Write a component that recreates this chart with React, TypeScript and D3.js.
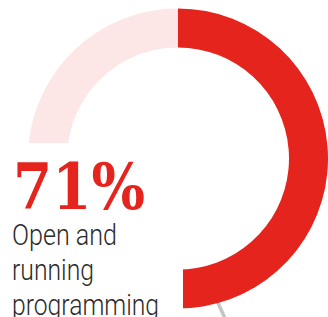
import React from "react";
import * as d3 from "d3";

const segments = ["Open and running programming", "Other"];
const values = [71, 29];
const colors = ["#e5241d", "#fce7e6"];
const bigLabel = "71%";
const labelLines = ["Open and", "running", "programming"];
const labelWidths = [105, 82, 147];

export default function App() {
  const W = 328, H = 317;
  const cx = 178, cy = 158.5, rOuter = 150, rInner = 111;
  const pie = d3.pie<number>().sort(null).value((d) => d)(values);
  const arc = d3.arc<d3.PieArcDatum<number>>().innerRadius(rInner).outerRadius(rOuter);
  return (
    <svg width={W} height={H} style={{ position: "fixed", left: 0, top: 0 }}>
      <rect width={W} height={H} fill="#fff" />
      <line x1={214} y1={294} x2={228} y2={325} stroke="#c4c4c4" strokeWidth={3.5} />
      <g transform={`translate(${cx},${cy})`}>
        {pie.map((p, i) => (
          <path key={segments[i]} d={arc(p) || ""} fill={colors[i]} />
        ))}
      </g>
      <rect x={0} y={143} width={183} height={H - 143} fill="#fff" />
      <text x={13} y={209} fill="#e5241d" fontFamily="'DejaVu Serif', serif" fontWeight={700}
        fontSize={64} textLength={132} lengthAdjust="spacingAndGlyphs">{bigLabel}</text>
      {labelLines.map((l, i) => (
        <text key={l} x={12} y={245 + i * 35} fill="#2b2b2b" fontFamily="Roboto, sans-serif" fontWeight={300}
          fontSize={29} textLength={labelWidths[i]} lengthAdjust="spacingAndGlyphs">{l}</text>
      ))}
    </svg>
  );
}
